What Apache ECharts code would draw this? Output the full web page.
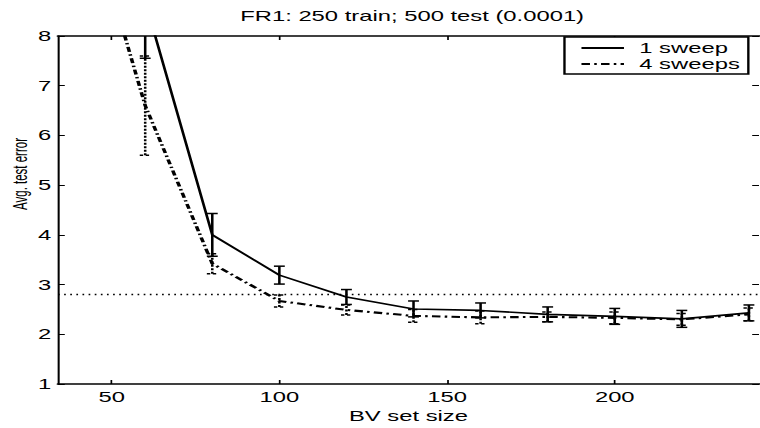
<!DOCTYPE html>
<html><head><meta charset="utf-8">
<script src="https://cdn.jsdelivr.net/npm/echarts@6/dist/echarts.min.js"></script>
<style>
html,body{margin:0;padding:0;background:#fff;overflow:hidden;}
#wrap{width:760px;height:428px;overflow:hidden;background:#fff;}
#chart{width:447px;height:428px;transform:scaleX(1.70022);transform-origin:0 0;}
</style></head><body><div id="wrap"><div id="chart"></div></div>
<script>
const bvSizes = [40, 60, 80, 100, 120, 140, 160, 180, 200, 220, 240];
const oneSweep = [null, 8.7, 4.0, 3.19, 2.75, 2.51, 2.48, 2.40, 2.36, 2.31, 2.43];
const oneSweepErr = [null, 1.15, 0.43, 0.18, 0.15, 0.16, 0.15, 0.15, 0.16, 0.17, 0.16];
const fourSweeps = [11.2, 6.6, 3.42, 2.67, 2.49, 2.37, 2.34, 2.35, 2.33, 2.30, 2.40];
const fourSweepsErr = [null, 1.0, 0.2, 0.12, 0.1, 0.13, 0.13, 0.1, 0.12, 0.12, 0.13];
const threshold = 2.8;
const xTickValues = [50, 100, 150, 200];
const titleText = 'FR1: 250 train; 500 test (0.0001)';
const xName = 'BV set size';
const yName = 'Avg. test error';
const seriesNames = ['1 sweep', '4 sweeps'];

const FONT = 'Liberation Sans, Arial, Helvetica, sans-serif';
const chart = echarts.init(document.getElementById('chart'), null, {renderer: 'svg'});

function pairs(vals) { return bvSizes.map((x, i) => [x, vals[i]]); }
function errData(vals, errs) {
  const out = [];
  bvSizes.forEach((x, i) => {
    if (vals[i] != null && errs[i] != null) out.push([x, vals[i] - errs[i], vals[i] + errs[i]]);
  });
  return out;
}
function errRender(dash, w) {
  return function (params, api) {
    const x = api.value(0);
    const lo = api.coord([x, api.value(1)]);
    const hi = api.coord([x, api.value(2)]);
    const hw = 3.2;
    const st = {stroke: '#000', lineWidth: w, lineDash: dash, fill: null};
    return {
      type: 'group',
      children: [
        {type: 'line', shape: {x1: lo[0], y1: lo[1], x2: hi[0], y2: hi[1]}, style: st},
        {type: 'line', shape: {x1: lo[0] - hw, y1: lo[1], x2: lo[0] + hw, y2: lo[1]}, style: st},
        {type: 'line', shape: {x1: hi[0] - hw, y1: hi[1], x2: hi[0] + hw, y2: hi[1]}, style: st}
      ]
    };
  };
}

const axisCommon = {
  type: 'value', min: 34, max: 243,
  axisLine: {show: true, lineStyle: {color: '#000', width: 1.7}},
  splitLine: {show: false}
};

chart.setOption({
  animation: false,
  backgroundColor: '#fff',
  textStyle: {fontFamily: FONT},
  title: {
    text: titleText, left: 242.4, top: 9, textAlign: 'center', padding: 0,
    textStyle: {fontSize: 14, fontWeight: 'normal', color: '#000', fontFamily: FONT}
  },
  grid: {left: 34.11, right: 0.6, top: 36, bottom: 41, containLabel: false},
  legend: {
    data: seriesNames, orient: 'vertical', left: 332, top: 37,
    itemWidth: 25, itemHeight: 10, itemGap: 2,
    padding: [4, 5, 3, 9],
    borderColor: '#000', borderWidth: 1.4, backgroundColor: '#fff',
    itemStyle: {opacity: 0},
    textStyle: {fontSize: 14, color: '#000', fontFamily: FONT, padding: [0, 0, 0, 4]}
  },
  xAxis: [
    Object.assign({}, axisCommon, {
      position: 'bottom',
      axisTick: {show: true, inside: true, length: 4, customValues: xTickValues, lineStyle: {color: '#000', width: 1}},
      axisLabel: {show: true, customValues: xTickValues, fontSize: 14, color: '#000', margin: 6, fontFamily: FONT},
      name: xName, nameLocation: 'middle', nameGap: 25,
      nameTextStyle: {fontSize: 14, color: '#000', fontFamily: FONT}
    }),
    Object.assign({}, axisCommon, {
      position: 'top',
      axisTick: {show: true, inside: true, length: 4, customValues: xTickValues, lineStyle: {color: '#000', width: 1}},
      axisLabel: {show: false}
    })
  ],
  yAxis: [
    {
      type: 'value', min: 1, max: 8, interval: 1, position: 'left',
      axisLine: {show: true, lineStyle: {color: '#000', width: 1.2}},
      axisTick: {show: true, inside: true, length: 4, lineStyle: {color: '#000', width: 1}},
      axisLabel: {fontSize: 14, color: '#000', margin: 4, fontFamily: FONT},
      splitLine: {show: false}
    },
    {
      type: 'value', min: 1, max: 8, interval: 1, position: 'right',
      axisLine: {show: false},
      axisTick: {show: true, inside: true, length: 4, lineStyle: {color: '#000', width: 1}},
      axisLabel: {show: false},
      splitLine: {show: false}
    }
  ],
  graphic: [{
    type: 'text', x: 11.8, y: 174, rotation: Math.PI / 2,
    style: {text: yName, fontSize: 11.5, fill: '#000', textAlign: 'center', textVerticalAlign: 'middle', fontFamily: FONT}
  }],
  series: [
    {
      name: seriesNames[0], type: 'line', data: pairs(oneSweep), symbol: 'none', clip: true,
      lineStyle: {color: '#000', width: 1.6, type: 'solid'}, itemStyle: {color: '#000'}, z: 3
    },
    {
      name: seriesNames[1], type: 'line', data: pairs(fourSweeps), symbol: 'none', clip: true,
      lineStyle: {color: '#000', width: 2.1, type: [5, 2.5, 1.5, 2.5]}, itemStyle: {color: '#000'}, z: 3,
      markLine: {
        silent: true, symbol: 'none', label: {show: false},
        lineStyle: {color: '#000', width: 1.4, type: [1, 2.6]},
        data: [{yAxis: threshold}]
      }
    },
    {
      name: 'err1', type: 'custom', clip: true, data: errData(oneSweep, oneSweepErr),
      renderItem: errRender(null, 1.5), encode: {x: 0, y: [1, 2]}, z: 4
    },
    {
      name: 'err4', type: 'custom', clip: true, data: errData(fourSweeps, fourSweepsErr),
      renderItem: errRender([2, 1.5], 1.5), encode: {x: 0, y: [1, 2]}, z: 4
    }
  ]
});
</script></body></html>
